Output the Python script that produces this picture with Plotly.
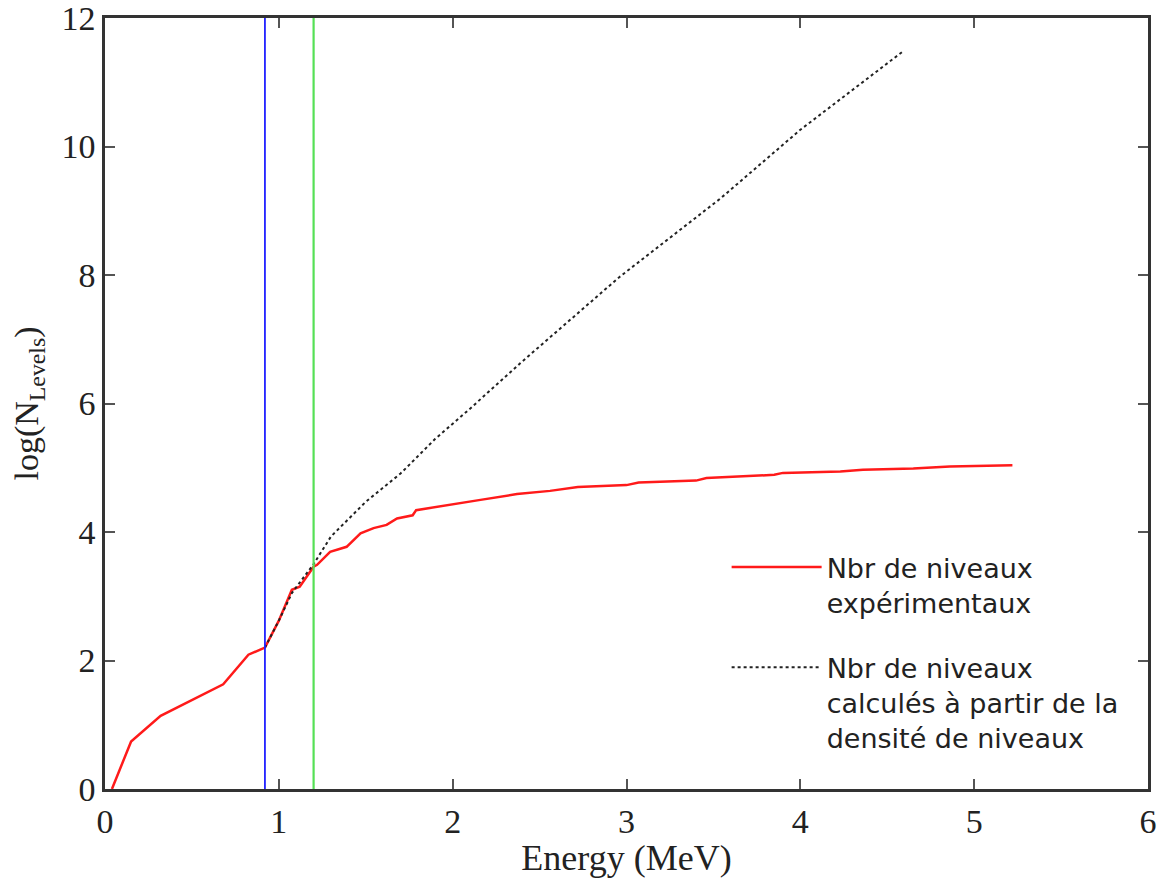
import plotly.graph_objects as go

# experimental cumulative number of levels (log)
energie_exp = [0.04, 0.15, 0.32, 0.68, 0.825, 0.92, 1.0, 1.075, 1.12, 1.20, 1.22, 1.295,
               1.39, 1.47, 1.545, 1.62, 1.68, 1.77, 1.79, 1.985, 2.16, 2.37, 2.56, 2.72,
               3.0, 3.07, 3.40, 3.46, 3.85, 3.90, 4.23, 4.36, 4.65, 4.86, 5.22]
log_n_exp = [0.0, 0.74, 1.14, 1.63, 2.09, 2.2, 2.62, 3.10, 3.15, 3.46, 3.49, 3.69,
             3.77, 3.98, 4.06, 4.11, 4.21, 4.26, 4.34, 4.42, 4.50, 4.59, 4.64, 4.70,
             4.73, 4.77, 4.80, 4.84, 4.89, 4.92, 4.94, 4.97, 4.99, 5.02, 5.04]

# levels computed from the level density
energie_calc = [0.92, 1.0, 1.075, 1.2, 1.3, 1.5, 1.7, 1.9, 2.1, 2.39, 2.96, 3.42, 3.54, 4.0, 4.59]
log_n_calc = [2.2, 2.62, 3.05, 3.5, 3.93, 4.47, 4.91, 5.45, 5.92, 6.63, 7.97, 8.93, 9.19, 10.26, 11.48]

# limites verticales
e_bleu = 0.92
e_vert = 1.20

serif = "Liberation Serif, Times New Roman, serif"
sans = "DejaVu Sans, Arial, sans-serif"

fig = go.Figure()

fig.add_trace(go.Scatter(x=energie_exp, y=log_n_exp, mode='lines',
                         line=dict(color='#ff1a1a', width=2.5),
                         name='Nbr de niveaux<br>expérimentaux',
                         legendgroup='a'))
fig.add_trace(go.Scatter(x=energie_calc, y=log_n_calc, mode='lines',
                         line=dict(color='#222222', width=2, dash='3px,3px'),
                         name='Nbr de niveaux<br>calculés à partir de la<br>densité de niveaux',
                         legendgroup='b'))

fig.add_vline(x=e_bleu, line=dict(color='#2020ff', width=1.8))
fig.add_vline(x=e_vert, line=dict(color='#55e055', width=2.2))

axe = dict(showgrid=False, zeroline=False, showline=True, linecolor='#333333', linewidth=2.5,
           mirror='ticks', ticks='inside', ticklen=10, tickwidth=2, tickcolor='#555555',
           automargin=False, ticklabeloverflow='allow',
           tickfont=dict(family=serif, size=34, color='#222222'))

fig.update_xaxes(range=[0, 6], dtick=1, **axe,
                 title=dict(text='Energy (MeV)', font=dict(family=serif, size=36, color='#222222'),
                            standoff=5))
fig.update_yaxes(range=[0, 12], dtick=2, **axe,
                 title=dict(text='log(N<sub>Levels</sub>)', font=dict(family=serif, size=34, color='#222222'),
                            standoff=14))

# the page body adds an 8 px offset, so the figure is 8 px smaller on each side
fig.update_layout(width=1162, height=870,
                  margin=dict(l=97, r=22, t=10, b=89),
                  plot_bgcolor='white', paper_bgcolor='white',
                  legend=dict(x=0.596, y=0.319, xanchor='left', yanchor='top', valign='top',
                              itemwidth=90,
                              font=dict(family=sans, size=27, color='#222222'),
                              tracegroupgap=27, bgcolor='rgba(0,0,0,0)'))

fig.write_html("out.html")
